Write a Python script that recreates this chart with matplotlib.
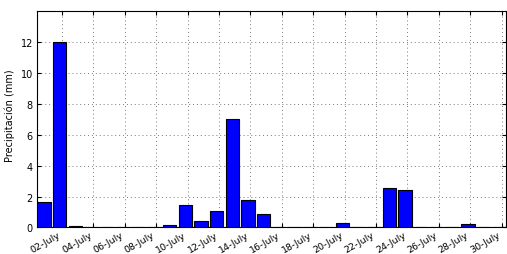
import matplotlib
matplotlib.use("Agg")
import matplotlib.pyplot as plt
import numpy as np

days = list(range(1, 31))
precip = [1.65, 12.0, 0.1, 0, 0, 0, 0, 0, 0.15, 1.43, 0.45, 1.04, 7.0, 1.8, 0.86,
          0.04, 0.03, 0, 0.05, 0.28, 0.03, 0, 2.56, 2.43, 0, 0, 0, 0.2, 0, 0]
tick_days = list(range(2, 31, 2))
tick_labels = ["%02d-July" % d for d in tick_days]

fig = plt.figure(figsize=(5.07, 2.55), dpi=100)
ax = fig.add_axes([0.073, 0.104, 0.925, 0.848])
x = np.array(days) - 0.15
ax.bar(x, precip, width=0.85, color="#0000ff", edgecolor="black", linewidth=0.8, zorder=3)
ax.set_xlim(0.41, 30.28)
ax.set_ylim(0, 14)
ax.set_yticks(range(0, 13, 2))
ax.set_xticks(tick_days)
ax.set_xticklabels(tick_labels, rotation=30, ha="right", fontsize=6.8)
ax.tick_params(axis="y", labelsize=7, pad=3)
ax.tick_params(axis="x", pad=1.5)
ax.tick_params(direction="in", top=True, right=True, length=3, width=0.8)
ax.grid(True, linestyle=(0, (1, 3)), color="#777777", linewidth=0.7, zorder=0)
ax.set_axisbelow(True)
ax.set_ylabel("Precipitación (mm)", fontsize=7)
ax.yaxis.set_label_coords(-0.047, 0.52)
for s in ax.spines.values():
    s.set_linewidth(0.8)
fig.savefig("out.png", dpi=100)
